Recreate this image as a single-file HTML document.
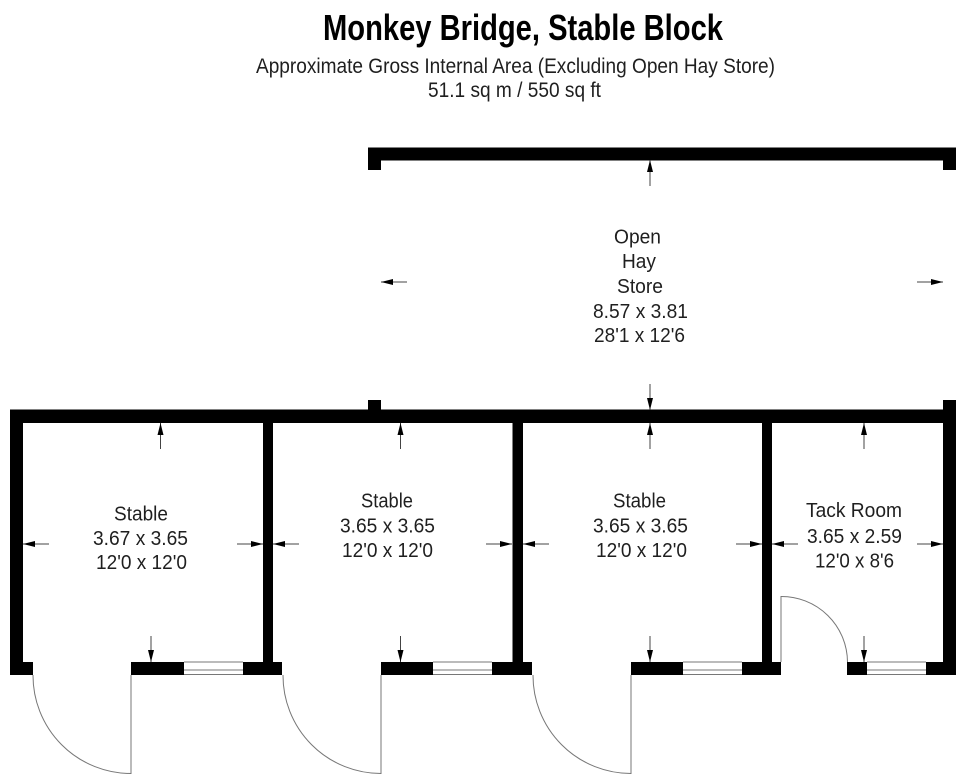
<!DOCTYPE html>
<html><head><meta charset="utf-8"><style>html,body{margin:0;padding:0;background:#fff}svg{display:block}text{font-family:"Liberation Sans",sans-serif;fill:#1f1f1f;font-size:20.5px}</style></head><body>
<svg width="960" height="784" viewBox="0 0 960 784" xmlns="http://www.w3.org/2000/svg">
<g fill="#000">
<path d="M368 147.5H956V170H943V160.5H381V170H368Z"/>
<rect x="368" y="400" width="13" height="12"/><rect x="943" y="400" width="13" height="12"/>
<rect x="10" y="409.5" width="946" height="13.5"/>
<rect x="10" y="410" width="13" height="265"/><rect x="263" y="410" width="10" height="255"/><rect x="512.5" y="410" width="10.5" height="255"/><rect x="762" y="410" width="10" height="255"/><rect x="943" y="410" width="13" height="265"/>
<rect x="10" y="662" width="23" height="13"/>
<rect x="131" y="662" width="53" height="13"/><rect x="243" y="662" width="39" height="13"/>
<rect x="381" y="662" width="52" height="13"/><rect x="492" y="662" width="40" height="13"/>
<rect x="631" y="662" width="52" height="13"/><rect x="742" y="662" width="39" height="13"/>
<rect x="847" y="662" width="20" height="13"/><rect x="926" y="662" width="30" height="13"/>
</g>
<g fill="none" stroke="#777" stroke-width="1">
<path d="M184 662H243M184 670H243M184 674.5H243M433 662H492M433 670H492M433 674.5H492M683 662H742M683 670H742M683 674.5H742M867 662H926M867 670H926M867 674.5H926"/>
<path d="M131 675V773.5A98 98 0 0 1 33 675"/>
<path d="M381 675V773.5A98 98 0 0 1 283 675"/>
<path d="M631 675V773.5A98 98 0 0 1 533 675"/>
<path d="M781 662V596.5A66 66 0 0 1 847.5 662"/>
</g>
<g stroke="#444" stroke-width="1" fill="none">
<path d="M650 160V186M650 384V410M381 282H407M943 282H917"/>
<path d="M160.500 423V449M400.500 423V449M650 423V449M864 423V449"/>
<path d="M151 662V636M400.500 662V636M650 662V636M864 662V636"/>
<path d="M23 544H49M263 544H237M273 544H299M512 544H486M523 544H549M762 544H736M772 544H798M943 544H917"/>
</g>
<g fill="#000">
<path d="M650 160l-3 12h6zM650 410l-3-12h6zM381 282l12-3v6zM943 282l-12-3v6z"/>
<path d="M160.500 423l-3 12h6zM400.500 423l-3 12h6zM650 423l-3 12h6zM864 423l-3 12h6z"/>
<path d="M151 662l-3-12h6zM400.500 662l-3-12h6zM650 662l-3-12h6zM864 662l-3-12h6z"/>
<path d="M23 544l12-3v6zM263 544l-12-3v6zM273 544l12-3v6zM512 544l-12-3v6zM523 544l12-3v6zM762 544l-12-3v6zM772 544l12-3v6zM943 544l-12-3v6z"/>
</g>
<text x="323" y="40" style="font-size:36px;font-weight:bold;fill:#000" textLength="400" lengthAdjust="spacingAndGlyphs">Monkey Bridge, Stable Block</text>
<text x="256" y="73" style="font-size:21px" textLength="519" lengthAdjust="spacingAndGlyphs">Approximate Gross Internal Area (Excluding Open Hay Store)</text>
<text x="428" y="97" style="font-size:21px" textLength="173" lengthAdjust="spacingAndGlyphs">51.1 sq m / 550 sq ft</text>
<text x="614" y="243.500" textLength="47" lengthAdjust="spacingAndGlyphs">Open</text>
<text x="622" y="268" textLength="34" lengthAdjust="spacingAndGlyphs">Hay</text>
<text x="617" y="293" textLength="46" lengthAdjust="spacingAndGlyphs">Store</text>
<text x="593" y="318" textLength="95" lengthAdjust="spacingAndGlyphs">8.57 x 3.81</text>
<text x="594" y="342" textLength="91" lengthAdjust="spacingAndGlyphs">28'1 x 12'6</text>
<text x="114" y="520.500" textLength="54" lengthAdjust="spacingAndGlyphs">Stable</text>
<text x="93" y="545" textLength="95" lengthAdjust="spacingAndGlyphs">3.67 x 3.65</text>
<text x="96" y="569" textLength="91" lengthAdjust="spacingAndGlyphs">12'0 x 12'0</text>
<text x="361" y="507.500" textLength="52" lengthAdjust="spacingAndGlyphs">Stable</text>
<text x="340" y="532.500" textLength="95" lengthAdjust="spacingAndGlyphs">3.65 x 3.65</text>
<text x="342" y="557" textLength="91" lengthAdjust="spacingAndGlyphs">12'0 x 12'0</text>
<text x="613" y="507.500" textLength="53" lengthAdjust="spacingAndGlyphs">Stable</text>
<text x="593" y="532.500" textLength="95" lengthAdjust="spacingAndGlyphs">3.65 x 3.65</text>
<text x="596" y="557" textLength="91" lengthAdjust="spacingAndGlyphs">12'0 x 12'0</text>
<text x="806" y="517" textLength="96" lengthAdjust="spacingAndGlyphs">Tack Room</text>
<text x="807" y="543" textLength="95" lengthAdjust="spacingAndGlyphs">3.65 x 2.59</text>
<text x="815" y="567.500" textLength="79" lengthAdjust="spacingAndGlyphs">12'0 x 8'6</text>
</svg>
</body></html>
